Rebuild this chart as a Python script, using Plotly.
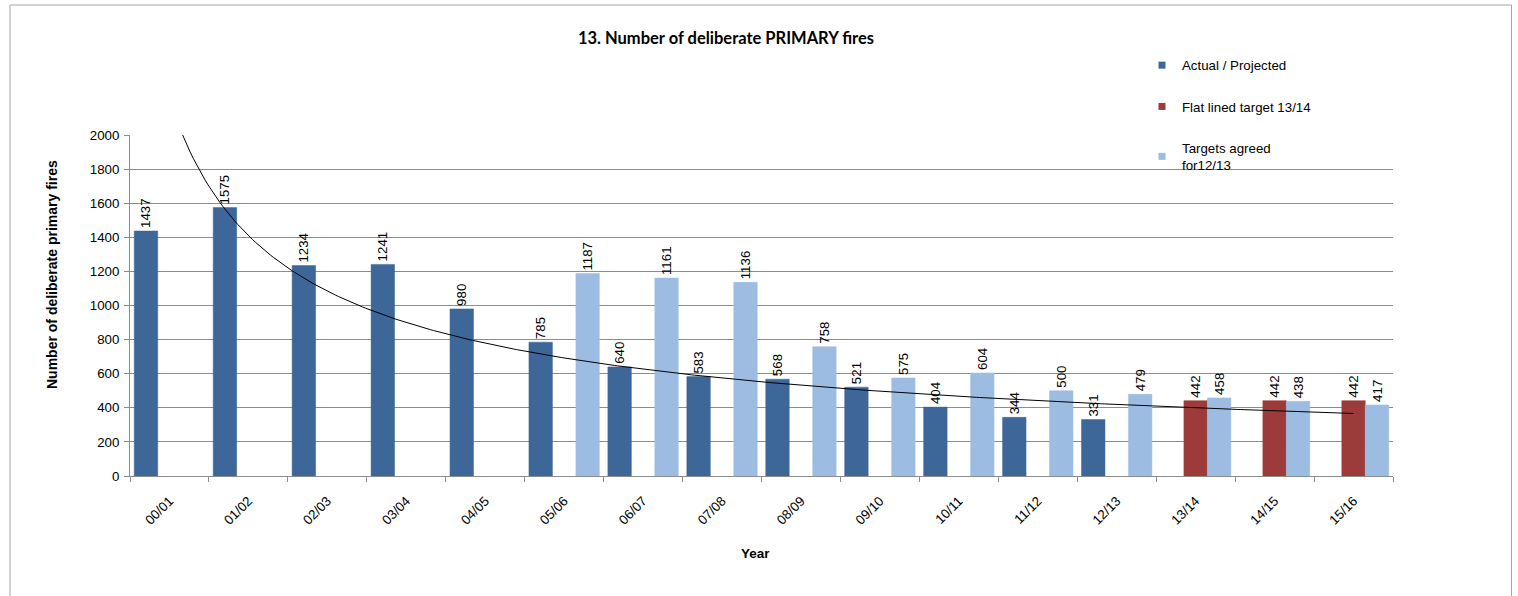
import numpy as np
import plotly.graph_objects as go

# ---------------- data ----------------
years = ["00/01", "01/02", "02/03", "03/04", "04/05", "05/06", "06/07", "07/08",
         "08/09", "09/10", "10/11", "11/12", "12/13", "13/14", "14/15", "15/16"]
actual = [1437, 1575, 1234, 1241, 980, 785, 640, 583, 568, 521, 404, 344, 331,
          None, None, None]
flat_target = [None] * 13 + [442, 442, 442]
agreed = [None] * 5 + [1187, 1161, 1136, 758, 575, 604, 500, 479, 458, 438, 417]

# ---------------- geometry helpers ----------------
W, H = 1518, 596
L, R, T, B = 130, 1518 - 1393, 135, 596 - 476
PW, PH = W - L - R, H - T - B


def px_x(px):
    return (px - L) / PW


def px_y(py):
    return (H - B - py) / PH


FONT = "Liberation Sans, Arial, sans-serif"
FS = 13.3
DARK = "#3D6699"
RED = "#9C3B39"
LIGHT = "#9DBCE2"
GRID = "#8C8C8C"

xs = list(range(len(years)))

fig = go.Figure()


def add_bar(vals, name, color, group):
    fig.add_trace(go.Bar(
        x=xs, y=vals, name=name, legendgroup=group, showlegend=False,
        marker=dict(color=color, line=dict(color=color, width=0.5)),
        text=[("" if v is None else str(v) + "\u00a0") for v in vals],
        textposition="outside", textangle=-90, constraintext="none",
        textfont=dict(family=FONT, size=FS, color="#000000"),
        cliponaxis=False,
    ))
    # legend entry with a small square key (as in the original chart)
    fig.add_trace(go.Scatter(
        x=[None], y=[None], mode="markers", name=name, legendgroup=group,
        marker=dict(symbol="square", size=7, color=color),
        hoverinfo="skip",
    ))


add_bar(actual, "Actual / Projected", DARK, "a")
add_bar(flat_target, "Flat lined target 13/14", RED, "b")
add_bar(agreed, "Targets agreed<br>for12/13", LIGHT, "c")

# Power trendline fitted to the actual series (as in the spreadsheet), extended
pts_x = np.array([i + 1 for i, v in enumerate(actual) if v is not None], float)
pts_y = np.array([v for v in actual if v is not None], float)
b, ln_a = np.polyfit(np.log(pts_x), np.log(pts_y), 1)
tx = np.linspace(1, len(years), 400)
ty = np.exp(ln_a) * tx ** b
fig.add_trace(go.Scatter(
    x=tx - 1, y=ty, mode="lines", line=dict(color="#000000", width=1),
    showlegend=False, hoverinfo="skip",
))

fig.update_layout(
    width=W, height=H,
    margin=dict(l=L, r=R, t=T, b=B),
    paper_bgcolor="white", plot_bgcolor="white",
    barmode="group", bargap=0.108, bargroupgap=0,
    font=dict(family=FONT, size=FS, color="#000000"),
    title=dict(text="<b>13. Number of deliberate PRIMARY fires</b>",
               font=dict(family="Lato, Open Sans, sans-serif", size=16.5, color="#000000"),
               xref="container", yref="container",
               x=726 / W, y=1 - 38 / H, xanchor="center", yanchor="middle"),
    legend=dict(x=px_x(1142), y=px_y(50), xanchor="left", yanchor="top",
                font=dict(family=FONT, size=FS, color="#000000"),
                bgcolor="rgba(0,0,0,0)", tracegroupgap=21,
                itemwidth=30, traceorder="grouped"),
    showlegend=True,
)

fig.update_xaxes(
    range=[-0.5, len(years) - 0.5],
    tickmode="array", tickvals=xs, ticktext=years, tickangle=-45,
    ticks="", ticklabelstandoff=11,
    tickfont=dict(family=FONT, size=FS, color="#000000"),
    showline=True, linecolor=GRID, linewidth=1,
    showgrid=False, zeroline=False,
    minor=dict(tickmode="linear", tick0=-0.5, dtick=1, ticks="outside",
               ticklen=5, tickcolor=GRID, showgrid=False),
)
fig.update_yaxes(
    range=[0, 2000], dtick=200, tick0=0,
    ticks="outside", ticklen=5, tickcolor=GRID, ticklabelstandoff=2,
    tickfont=dict(family=FONT, size=FS, color="#000000"),
    showline=True, linecolor=GRID, linewidth=1,
    showgrid=True, gridcolor=GRID, gridwidth=1, zeroline=False,
)

# axis titles
fig.add_annotation(text="<b>Number of deliberate primary fires</b>",
                   xref="paper", yref="paper", x=px_x(42), y=px_y(275),
                   textangle=-90, showarrow=False,
                   font=dict(family=FONT, size=14, color="#000000"))
fig.add_annotation(text="<b>Year</b>", xref="paper", yref="paper",
                   x=px_x(755), y=px_y(563), showarrow=False,
                   font=dict(family=FONT, size=13.5, color="#000000"))

# outer chart border
fig.add_shape(type="rect", xref="paper", yref="paper",
              x0=px_x(10), x1=px_x(1511.5), y0=px_y(600), y1=px_y(5),
              line=dict(color="#A6A6A6", width=1), fillcolor="rgba(0,0,0,0)",
              layer="below")

fig.write_html("out.html",
               config={"displayModeBar": False},
               post_script="document.body.style.margin='0';"
                           "document.body.style.padding='0';")
